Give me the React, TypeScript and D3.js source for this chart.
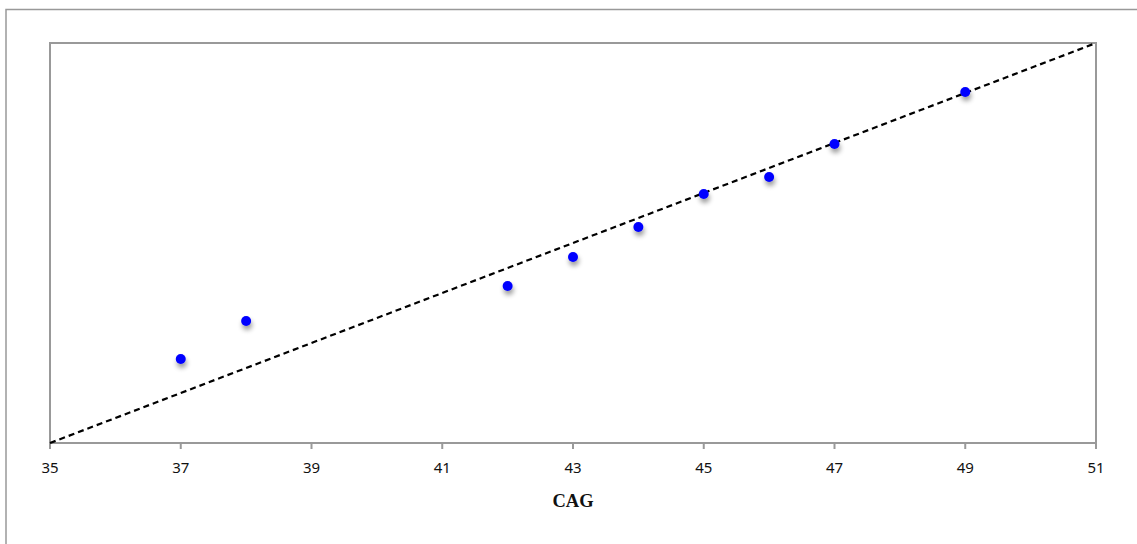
import React from "react";
import * as d3 from "d3";

const cagValues = [37, 38, 42, 43, 44, 45, 46, 47, 49];
const yValues = [84, 122, 157, 186, 216, 249, 266, 299, 351];
const xTicks = [35, 37, 39, 41, 43, 45, 47, 49, 51];
const fitLine = [
  { x: 35, y: 0 },
  { x: 51, y: 400 },
];
const xLabel = "CAG";

export default function App() {
  const W = 1137;
  const H = 544;
  const left = 50;
  const right = 1096;
  const top = 43;
  const bottom = 443;
  const x = d3.scaleLinear().domain([35, 51]).range([left, right]);
  const y = d3.scaleLinear().domain([0, 400]).range([bottom, top]);
  const line = d3
    .line<{ x: number; y: number }>()
    .x((d) => x(d.x))
    .y((d) => y(d.y));

  return (
    <svg
      width={W}
      height={H}
      style={{ position: "fixed", left: 0, top: 0, background: "#fff" }}
    >
      <defs>
        <filter id="shadow" x="-100%" y="-100%" width="300%" height="300%">
          <feGaussianBlur in="SourceAlpha" stdDeviation="2.6" />
          <feOffset dx="1" dy="4" result="ob" />
          <feComponentTransfer>
            <feFuncA type="linear" slope="0.4" />
          </feComponentTransfer>
          <feMerge>
            <feMergeNode />
            <feMergeNode in="SourceGraphic" />
          </feMerge>
        </filter>
      </defs>
      {/* outer frame */}
      <rect x={6} y={9.5} width={1200} height={600} fill="none" stroke="#999" strokeWidth={1.5} />
      {/* plot frame */}
      <rect
        x={left}
        y={top}
        width={right - left}
        height={bottom - top}
        fill="none"
        stroke="#999"
        strokeWidth={2}
      />
      {/* ticks */}
      {xTicks.map((t) => (
        <g key={t}>
          <line x1={x(t)} x2={x(t)} y1={bottom} y2={bottom + 6} stroke="#999" strokeWidth={2} />
          <text
            x={x(t)}
            y={bottom + 30}
            textAnchor="middle"
            fontFamily="'Noto Sans', 'Open Sans', sans-serif"
            fontSize={15}
            fill="#111"
          >
            {t}
          </text>
        </g>
      ))}
      <text
        x={(left + right) / 2}
        y={507}
        textAnchor="middle"
        fontFamily="'Liberation Serif', 'DejaVu Serif', serif"
        fontWeight="bold"
        fontSize={18.5}
        fill="#111"
      >
        {xLabel}
      </text>
      {/* trend line */}
      <path d={line(fitLine) || ""} fill="none" stroke="#000" strokeWidth={2.2} strokeDasharray="6,4" />
      {/* points */}
      {cagValues.map((c, i) => (
        <circle key={c} cx={x(c)} cy={y(yValues[i])} r={5} fill="#0000ff" filter="url(#shadow)" />
      ))}
    </svg>
  );
}
